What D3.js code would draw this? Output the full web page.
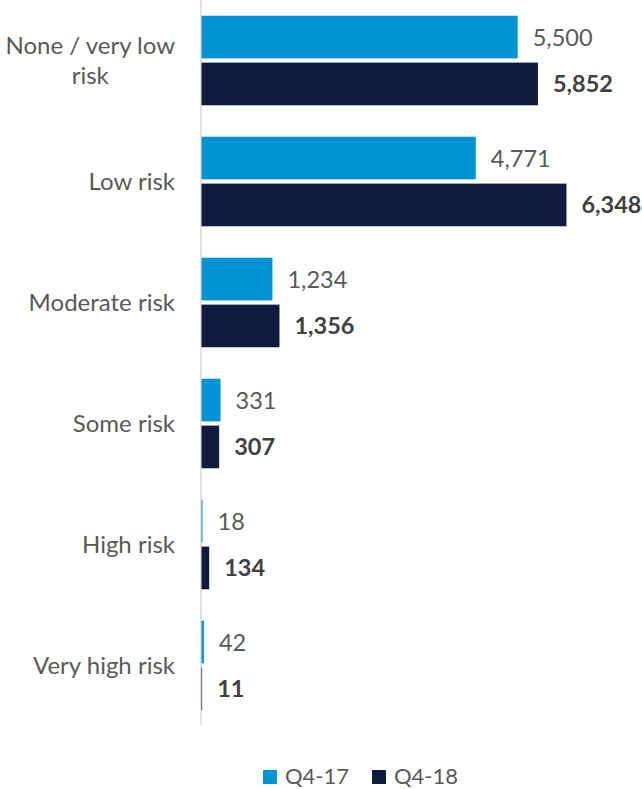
<!DOCTYPE html>
<html><head><meta charset="utf-8">
<script src="https://cdn.jsdelivr.net/npm/d3@7"></script>
<style>body{margin:0;background:#fff;} svg{display:block;font-family:Lato,"Open Sans",sans-serif;}</style>
</head><body>
<svg id="c" width="642" height="789"></svg>
<script>
const categories = [["None / very low","risk"],["Low risk"],["Moderate risk"],["Some risk"],["High risk"],["Very high risk"]];
const seriesNames = ["Q4-17","Q4-18"];
const q417 = [5500,4771,1234,331,18,42];
const q418 = [5852,6348,1356,307,134,11];
const colors = ["#0094D4","#0E1A3E"];

const svg = d3.select("#c");
const x = d3.scaleLinear().domain([0,5500]).range([201.5,517.7]);
const y = d3.scaleBand().domain(d3.range(categories.length)).range([0,726]).paddingInner(0.26).paddingOuter(0.13);
const sub = d3.scaleBand().domain([0,1]).range([0,y.bandwidth()]).paddingInner(0.09);
const series = [q417,q418];

// axis line
svg.append("line").attr("x1",201).attr("x2",201).attr("y1",0).attr("y2",725).attr("stroke","#D9D9D9").attr("stroke-width",1.5);

const g = svg.append("g");
series.forEach((vals,si)=>{
  vals.forEach((v,i)=>{
    const y0 = y(i)+sub(si);
    g.append("rect").attr("x",x(0)).attr("y",y0).attr("width",x(v)-x(0)).attr("height",sub.bandwidth()).attr("fill",colors[si]);
    g.append("text").attr("x",x(v)+15).attr("y",y0+sub.bandwidth()/2).attr("dy","0.36em")
      .attr("font-size",23.5).attr("font-weight",si===1?"bold":"normal").attr("fill",si===1?"#404040":"#595959")
      .text(d3.format(",")(v));
  });
});

// category labels
categories.forEach((lines,i)=>{
  const cy = y(i)+y.bandwidth()/2;
  const lh = 30;
  const t = svg.append("text").attr("font-size",24).attr("fill","#595959").attr("text-anchor","middle");
  const spans = lines.map((l,k)=>t.append("tspan").attr("y",cy+(k-(lines.length-1)/2)*lh).attr("dy","0.36em").text(l));
  const w = d3.max(spans.map(s=>s.node().getComputedTextLength()));
  spans.forEach(s=>s.attr("x",175-w/2));
});

// legend
const leg = svg.append("g");
const lx = [263,372];
seriesNames.forEach((n,k)=>{
  leg.append("rect").attr("x",lx[k]).attr("y",770).attr("width",14).attr("height",14).attr("fill",colors[k]);
  leg.append("text").attr("x",lx[k]+22).attr("y",776).attr("dy","0.36em").attr("font-size",22).attr("fill","#595959").text(n);
});
</script>
</body></html>
